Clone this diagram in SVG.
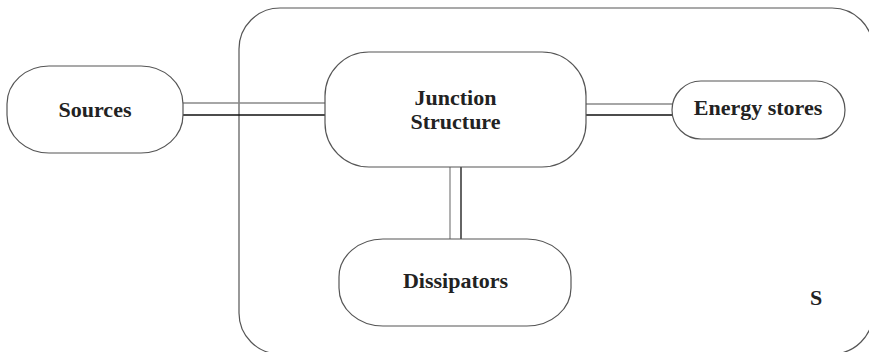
<svg xmlns="http://www.w3.org/2000/svg" width="869" height="352" viewBox="0 0 869 352">
<style>
.node{fill:#fff;stroke:#555;stroke-width:1.2}
.lbl{font-family:"Liberation Serif","Times New Roman",serif;font-weight:bold;font-size:22px;fill:#222;text-anchor:middle}
.lt{stroke:#888;stroke-width:1.3;fill:none}
.dk{stroke:#111;stroke-width:1.3;fill:none}
</style>
<rect width="869" height="352" fill="#fff"/>
<g id="system">
<rect x="239" y="8" width="634" height="346" rx="41" ry="41" fill="none" stroke="#555" stroke-width="1.2"/>
<text class="lbl" x="816" y="305">S</text>
</g>
<g id="connectors">
<line class="lt" x1="183" y1="103" x2="325" y2="103"/>
<line class="dk" x1="183" y1="115" x2="325" y2="115"/>
<line class="lt" x1="586" y1="104" x2="672" y2="104"/>
<line class="dk" x1="586" y1="115" x2="672" y2="115"/>
<line class="lt" x1="450" y1="167" x2="450" y2="239"/>
<line class="dk" x1="461" y1="167" x2="461" y2="239"/>
</g>
<g id="sources">
<rect class="node" x="7" y="66" width="176" height="87" rx="42" ry="38"/>
<text class="lbl" x="95" y="117">Sources</text>
</g>
<g id="junction">
<rect class="node" x="325" y="52" width="261" height="115" rx="44" ry="44"/>
<text class="lbl" x="455.5" y="105">Junction</text>
<text class="lbl" x="455.5" y="129">Structure</text>
</g>
<g id="energy">
<rect class="node" x="672" y="81" width="173" height="58" rx="29" ry="29"/>
<text class="lbl" x="758" y="115">Energy stores</text>
</g>
<g id="dissipators">
<rect class="node" x="339" y="239" width="232" height="87" rx="44" ry="38"/>
<text class="lbl" x="455.5" y="288">Dissipators</text>
</g>
</svg>
